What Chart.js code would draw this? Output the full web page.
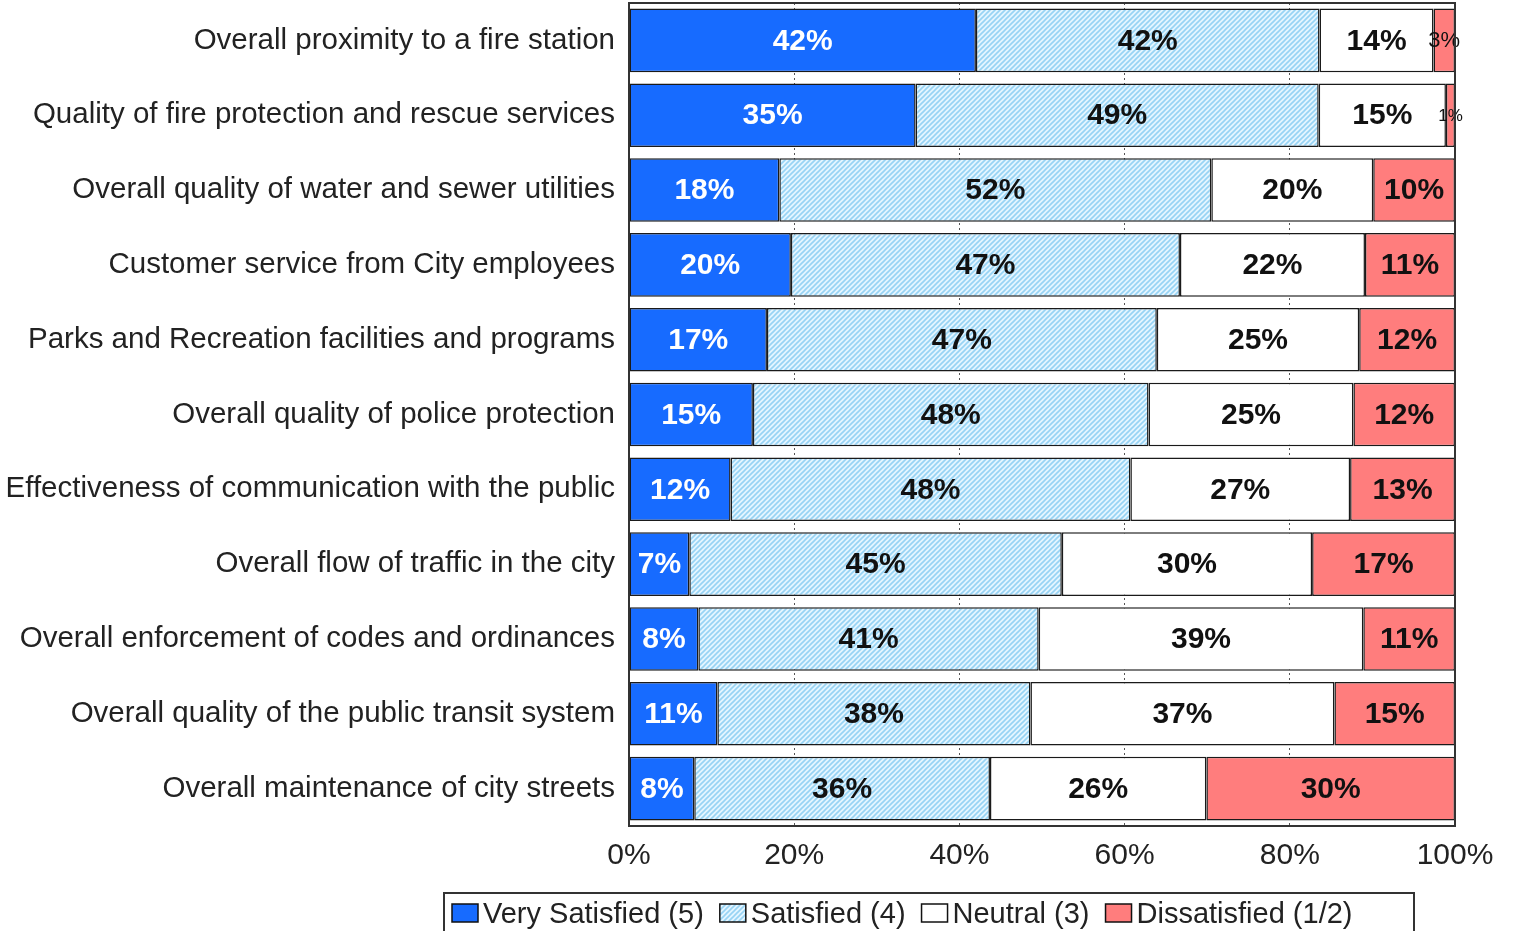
<!DOCTYPE html>
<html><head><meta charset="utf-8">
<script src="https://cdn.jsdelivr.net/npm/chart.js@4.4.1/dist/chart.umd.min.js"></script>
<style>html,body{margin:0;padding:0;background:#fff;overflow:hidden;}</style>
</head><body>
<canvas id="c" width="1515" height="931" style="display:block;width:1515px;height:931px;"></canvas>
<script>
const categories = [
  'Overall proximity to a fire station',
  'Quality of fire protection and rescue services',
  'Overall quality of water and sewer utilities',
  'Customer service from City employees',
  'Parks and Recreation facilities and programs',
  'Overall quality of police protection',
  'Effectiveness of communication with the public',
  'Overall flow of traffic in the city',
  'Overall enforcement of codes and ordinances',
  'Overall quality of the public transit system',
  'Overall maintenance of city streets'
];
const seriesNames = ['Very Satisfied (5)', 'Satisfied (4)', 'Neutral (3)', 'Dissatisfied (1/2)'];
const verySatisfied = [42.0, 34.7, 18.2, 19.6, 16.7, 15.0, 12.3, 7.3, 8.4, 10.7, 7.9];
const satisfied     = [41.6, 48.8, 52.3, 47.1, 47.2, 47.9, 48.4, 45.1, 41.2, 37.9, 35.8];
const neutral       = [13.8, 15.4, 19.6, 22.4, 24.5, 24.8, 26.6, 30.3, 39.3, 36.8, 26.2];
const dissatisfied  = [2.6, 1.1, 9.9, 10.9, 11.6, 12.3, 12.7, 17.3, 11.1, 14.6, 30.1];
const xTickLabels = ['0%', '20%', '40%', '60%', '80%', '100%'];

const FONT = '"Liberation Sans", Arial, sans-serif';

function hatch() {
  const s = 5;
  const c = document.createElement('canvas');
  c.width = s; c.height = s;
  const g = c.getContext('2d');
  g.fillStyle = '#e4f5ff';
  g.fillRect(0, 0, s, s);
  g.strokeStyle = '#97d3f4';
  g.lineWidth = 1.6;
  g.beginPath();
  g.moveTo(-1, s + 1); g.lineTo(s + 1, -1);
  g.moveTo(-1, 1); g.lineTo(1, -1);
  g.moveTo(s - 1, s + 1); g.lineTo(s + 1, s - 1);
  g.stroke();
  return g.createPattern(c, 'repeat');
}

const fills = ['#176bff', hatch(), '#ffffff', '#ff7d7d'];
const labelColors = ['#ffffff', '#111111', '#111111', '#111111'];
const seriesValues = [verySatisfied, satisfied, neutral, dissatisfied];

const valueLabels = {
  id: 'valueLabels',
  afterDatasetsDraw(chart) {
    const ctx = chart.ctx;
    ctx.save();
    ctx.textAlign = 'center';
    ctx.textBaseline = 'middle';
    chart.data.datasets.forEach((ds, di) => {
      const meta = chart.getDatasetMeta(di);
      meta.data.forEach((el, i) => {
        const v = ds.data[i];
        const p = el.getProps(['x', 'y', 'base'], true);
        const cx = (p.x + p.base) / 2;
        if (v < 5) {
          ctx.font = (v < 2 ? '17px ' : '22px ') + FONT;
          ctx.fillStyle = '#111';
        } else {
          ctx.font = 'bold 30px ' + FONT;
          ctx.fillStyle = labelColors[di];
        }
        ctx.fillText(Math.round(v) + '%', cx, p.y + 1);
      });
    });
    ctx.restore();
  }
};

const frame = {
  id: 'frame',
  afterDatasetsDraw(chart) {
    const a = chart.chartArea;
    const ctx = chart.ctx;
    ctx.save();
    ctx.strokeStyle = '#333';
    ctx.lineWidth = 2;
    ctx.strokeRect(a.left, a.top, a.right - a.left, a.bottom - a.top);
    ctx.restore();
  }
};

const boxLegend = {
  id: 'boxLegend',
  afterDraw(chart) {
    const ctx = chart.ctx;
    ctx.save();
    ctx.strokeStyle = '#333';
    ctx.lineWidth = 2;
    ctx.strokeRect(444, 893, 970, 60);
    ctx.font = '29px ' + FONT;
    ctx.textBaseline = 'alphabetic';
    ctx.textAlign = 'left';
    let x = 452;
    chart.data.datasets.forEach((ds, di) => {
      ctx.fillStyle = ds.backgroundColor;
      ctx.fillRect(x, 904, 26, 18);
      ctx.strokeStyle = '#111';
      ctx.lineWidth = 1.5;
      ctx.strokeRect(x, 904, 26, 18);
      ctx.fillStyle = '#222';
      ctx.fillText(ds.label, x + 31, 923);
      x += 31 + ctx.measureText(ds.label).width + 16;
    });
    ctx.restore();
  }
};

new Chart(document.getElementById('c'), {
  type: 'bar',
  data: {
    labels: categories,
    datasets: seriesValues.map((vals, i) => ({
      label: seriesNames[i],
      data: vals,
      backgroundColor: fills[i],
      borderColor: '#1a1a1a',
      borderWidth: 1.5,
      borderSkipped: false,
      barPercentage: 0.85,
      categoryPercentage: 1
    }))
  },
  options: {
    responsive: false,
    animation: false,
    indexAxis: 'y',
    layout: { padding: { top: 3, right: 60, left: 0, bottom: 0 } },
    plugins: { legend: { display: false }, tooltip: { enabled: false } },
    scales: {
      x: {
        stacked: true, min: 0, max: 100,
        ticks: {
          stepSize: 20,
          maxRotation: 0,
          padding: 12,
          color: '#222',
          font: { family: FONT, size: 30 },
          callback: (v) => xTickLabels[Math.round(v / 20)]
        },
        grid: { color: '#555', drawTicks: false, lineWidth: 1 },
        border: { display: false, dash: [2, 3] },
        afterFit: (s) => { s.height = 105; s.paddingLeft = 0; s.paddingRight = 0; }
      },
      y: {
        stacked: true,
        ticks: { color: '#222', font: { family: FONT, size: 29.5, lineHeight: 1.32 }, padding: 14 },
        grid: { display: false, drawTicks: false },
        border: { display: false },
        afterFit: (s) => { s.width = 629; s.paddingTop = 0; s.paddingBottom = 0; }
      }
    }
  },
  plugins: [valueLabels, frame, boxLegend]
});
</script>
</body></html>
